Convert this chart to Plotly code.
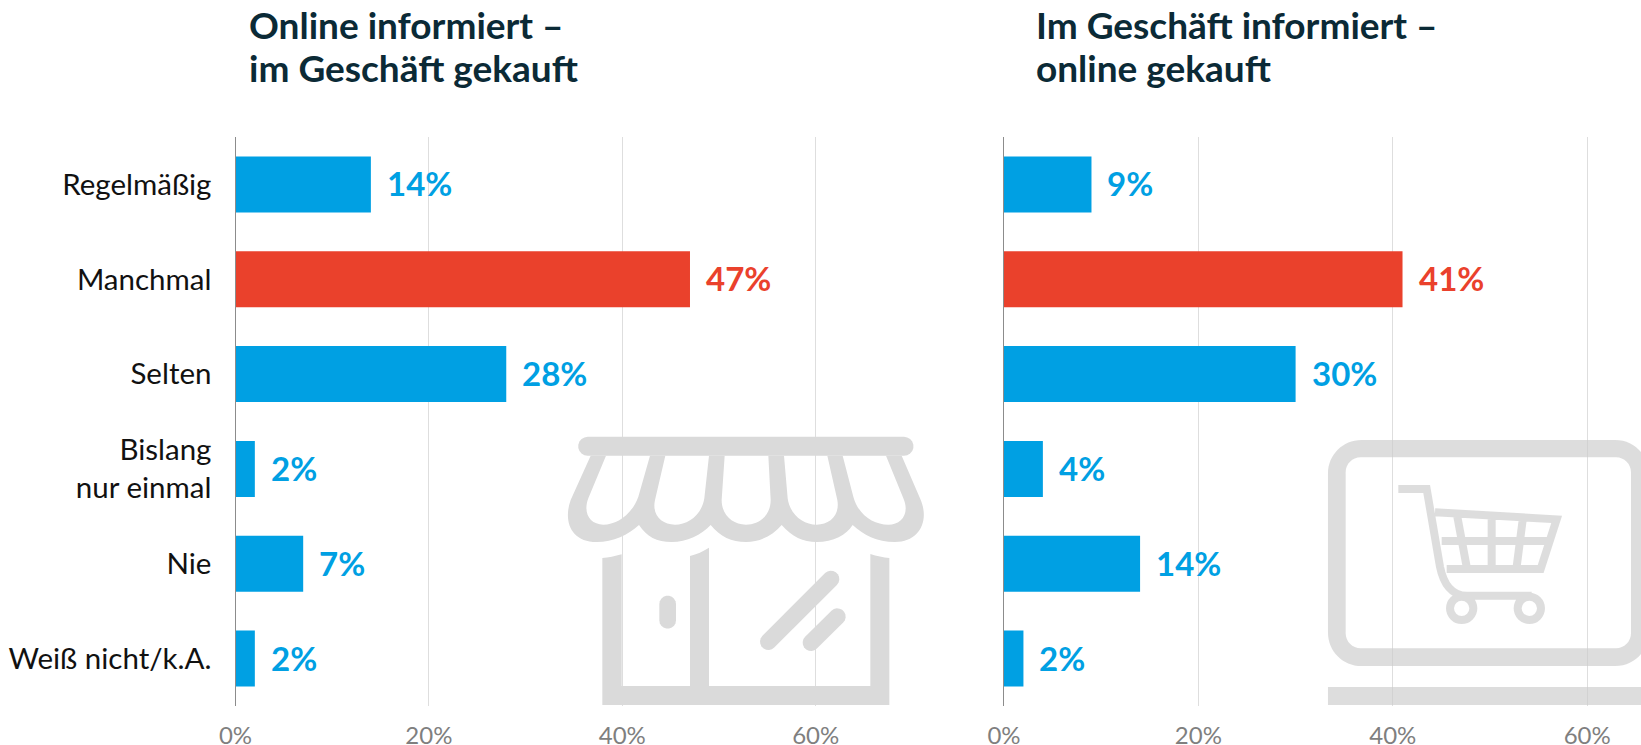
import re
import numpy as np
import plotly.graph_objects as go

categories = ["Regelmäßig", "Manchmal", "Selten", "Bislang<br>nur einmal", "Nie", "Weiß nicht/k.A."]
left_values = [14, 47, 28, 2, 7, 2]
right_values = [9, 41, 30, 4, 14, 2]
left_title = ["Online informiert –", "im Geschäft gekauft"]
right_title = ["Im Geschäft informiert –", "online gekauft"]
tick_values = [0, 20, 40, 60]
tick_labels = ["0%", "20%", "40%", "60%"]

W, H = 1641, 745
BLUE, RED = "#00a0e3", "#ea412c"
FONT = "Lato"
highlight = "Manchmal"
bar_colors = [RED if c == highlight else BLUE for c in categories]


def px(x, y):
    return x / W, 1 - y / H


def tr(path, ox, oy):
    """Zoom-crop coordinates (3x) to paper fractions."""
    def rep(m):
        x = ox + float(m.group(1)) / 3
        y = oy + float(m.group(2)) / 3
        a, b = px(x, y)
        return f"{a:.5f},{b:.5f}"
    return re.sub(r"(-?\d+\.?\d*),(-?\d+\.?\d*)", rep, path)


def pill(x1, y1, x2, y2, w):
    ang = np.arctan2(y2 - y1, x2 - x1)
    r = w / 2
    pts = []
    for t in np.linspace(np.pi / 2, 3 * np.pi / 2, 10):
        pts.append((x1 + r * np.cos(ang + t), y1 + r * np.sin(ang + t)))
    for t in np.linspace(-np.pi / 2, np.pi / 2, 10):
        pts.append((x2 + r * np.cos(ang + t), y2 + r * np.sin(ang + t)))
    return "M" + " L".join(f"{a:.1f},{b:.1f}" for a, b in pts) + " Z "


def circle(cx, cy, r):
    k = 0.5523 * r
    return (f"M{cx-r},{cy} C{cx-r},{cy-k} {cx-k},{cy-r} {cx},{cy-r} "
            f"C{cx+k},{cy-r} {cx+r},{cy-k} {cx+r},{cy} "
            f"C{cx+r},{cy+k} {cx+k},{cy+r} {cx},{cy+r} "
            f"C{cx-k},{cy+r} {cx-r},{cy+k} {cx-r},{cy} Z ")


def rrect(x0, y0, x1, y1, r):
    k = r * 0.4477
    return (f"M{x0+r},{y0} L{x1-r},{y0} C{x1-k},{y0} {x1},{y0+k} {x1},{y0+r} "
            f"L{x1},{y1-r} C{x1},{y1-k} {x1-k},{y1} {x1-r},{y1} "
            f"L{x0+r},{y1} C{x0+k},{y1} {x0},{y1-k} {x0},{y1-r} "
            f"L{x0},{y0+r} C{x0},{y0+k} {x0+k},{y0} {x0+r},{y0} Z ")


GRAY = "#dadada"
awning = ("M152,107 L92,240 C70,300 90,366 170,366 C220,366 265,345 297,315 "
          "C320,350 350,366 395,366 C440,366 485,345 512,315 C540,350 575,366 618,366 "
          "C660,366 700,345 725,315 C755,350 790,366 830,366 C880,366 920,345 938,315 "
          "C970,345 1010,366 1065,366 C1140,366 1170,300 1140,235 L1085,107 Z "
          "M198,107 L330,107 L295,230 C275,285 230,314 190,314 C150,314 128,280 145,235 Z "
          "M376,107 L507,107 L493,235 C485,285 445,314 405,314 C365,314 335,285 345,240 Z "
          "M554,107 L685,107 L692,240 C692,285 660,314 618,314 C578,314 545,285 545,240 Z "
          "M732,107 L862,107 L892,240 C900,285 870,314 830,314 C790,314 750,285 743,235 Z "
          "M908,107 L1038,107 L1090,235 C1110,280 1085,314 1045,314 C1000,314 955,285 940,230 Z")
body = ("M187,414 C205,413 225,409 245,403 L245,798 L450,798 L450,408 C470,403 490,394 507,383 "
        "L507,798 L991,798 L991,402 C1010,408 1030,412 1048,414 L1048,855 L187,855 Z")
shop_parts = [awning, body, pill(143, 79, 1092, 79, 57), pill(383, 552, 383, 601, 50),
              pill(685, 665, 873, 477, 50), pill(813, 668, 892, 590, 50)]

cart_frame = rrect(84, 60, 1046, 738, 100) + rrect(137, 112, 993, 685, 45)
cart_base = "M84,801 L1046,801 L1046,855 L84,855 Z"
cart_lines = ("M295,207 L380,207 L420,440 C430,490 455,527 500,527 L695,527 "
              "M405,277 L770,298 L722,447 L440,447 "
              "M425,363 L748,363 "
              "M472,290 L500,440 M575,295 L575,440 M668,300 L650,440 "
              + circle(485, 565, 35) + circle(688, 565, 35))

shapes = []
for p in shop_parts:
    shapes.append(dict(type="path", xref="paper", yref="paper", path=tr(p, 540, 420),
                       fillcolor=GRAY, line=dict(width=0), layer="above"))
for p in (cart_frame, cart_base):
    shapes.append(dict(type="path", xref="paper", yref="paper", path=tr(p, 1300, 420),
                       fillcolor="rgba(205,205,205,0.68)", line=dict(width=0), layer="above"))
shapes.append(dict(type="path", xref="paper", yref="paper", path=tr(cart_lines, 1300, 420),
                   fillcolor="rgba(0,0,0,0)", line=dict(width=8, color="rgba(205,205,205,0.68)"),
                   layer="above"))

fig = go.Figure()
for vals, xa, ya in ((left_values, "x", "y"), (right_values, "x2", "y2")):
    fig.add_trace(go.Bar(x=vals, y=categories, orientation="h", width=0.59,
                         marker=dict(color=bar_colors, line=dict(width=0)),
                         xaxis=xa, yaxis=ya, hoverinfo="skip", showlegend=False))

annotations = []
for vals, xa, ya in ((left_values, "x", "y"), (right_values, "x2", "y2")):
    for c, v, col in zip(categories, vals, bar_colors):
        annotations.append(dict(x=v, y=c, xref=xa, yref=ya, text=f"<b>{v}%</b>", showarrow=False,
                                xanchor="left", yanchor="middle", xshift=14, yshift=1,
                                font=dict(family=FONT, size=33, color=col)))
for lines, x in ((left_title, 250), (right_title, 1037)):
    for line, y in zip(lines, (25, 67)):
        a, b = px(x, y)
        annotations.append(dict(x=a, y=b, xref="paper", yref="paper", text=f"<b>{line}</b>",
                                showarrow=False, xanchor="left", yanchor="middle", xshift=-3,
                                font=dict(family=FONT, size=37, color="#0b2a36")))

xcommon = dict(range=[0, 65], tickvals=tick_values, ticktext=tick_labels, showgrid=True,
               gridcolor="#dedede", gridwidth=1.3, zeroline=False, showline=False, ticks="",
               automargin=False, ticklabelstandoff=13,
               tickfont=dict(family=FONT, size=24, color="#7f7f7f"))
ycommon = dict(range=[5.5, -0.5], type="category", categoryorder="array", categoryarray=categories,
               showgrid=False, zeroline=False, showline=True, linecolor="#8c8c8c", linewidth=1.3,
               ticks="", automargin=False, domain=[1 - 706 / H, 1 - 137 / H])

fig.update_layout(
    width=W, height=H, autosize=False, margin=dict(l=0, r=0, t=0, b=0),
    paper_bgcolor="white", plot_bgcolor="rgba(0,0,0,0)", bargap=0.41,
    xaxis=dict(domain=[235.5 / W, (235.5 + 65 * 9.67) / W], anchor="y", **xcommon),
    xaxis2=dict(domain=[1004 / W, (1004 + 65 * 9.72) / W], anchor="y2", **xcommon),
    yaxis=dict(anchor="x", showticklabels=True, ticklabelstandoff=17,
               tickfont=dict(family=FONT, size=29.5, color="#111111"), **ycommon),
    yaxis2=dict(anchor="x2", showticklabels=False, **ycommon),
    shapes=shapes, annotations=annotations,
)
fig.write_html("out.html", config={"displayModeBar": False},
               post_script="document.body.style.margin='0';document.body.style.overflow='hidden';")
